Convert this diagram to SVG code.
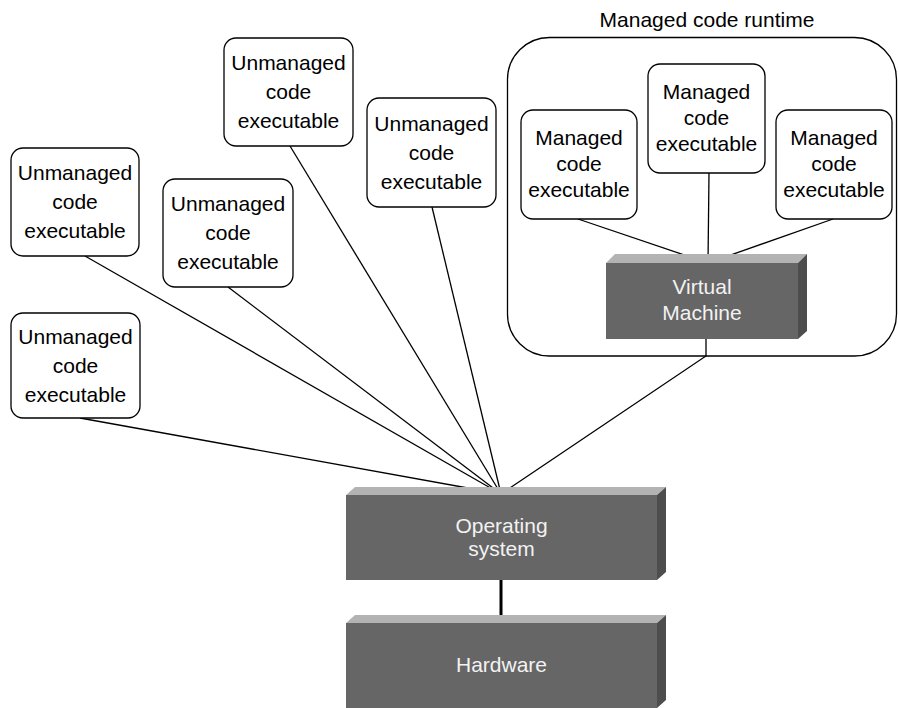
<svg xmlns="http://www.w3.org/2000/svg" width="898" height="708" viewBox="0 0 898 708">
<style>
.box{fill:#fff;stroke:#000;stroke-width:1.3}
.t{font-family:"Liberation Sans",Arial,sans-serif;font-size:21px;fill:#000;text-anchor:middle}
.w{font-family:"Liberation Sans",Arial,sans-serif;font-size:21px;fill:#f2f2f2;text-anchor:middle}
.front{fill:#666666}
.top{fill:#b3b3b3}
.side{fill:#4d4d4d}
.c{stroke:#000;stroke-width:1.3;fill:none}
</style>
<rect width="898" height="708" fill="#fff"/>
<g id="runtime">
<rect x="507.5" y="37.5" width="389" height="318.5" rx="42" ry="42" fill="none" stroke="#000" stroke-width="1.3"/>
<text class="t" x="707" y="27">Managed code runtime</text>
</g>
<g id="connectors">
<line class="c" x1="80" y1="418" x2="501" y2="494"/>
<line class="c" x1="85" y1="256" x2="501" y2="494"/>
<line class="c" x1="228" y1="287" x2="501" y2="494"/>
<line class="c" x1="290" y1="146" x2="501" y2="494"/>
<line class="c" x1="432" y1="207" x2="501" y2="494"/>
<polyline class="c" points="706,339 706,356 501,494"/>
<line class="c" x1="578" y1="219" x2="708" y2="263"/>
<line class="c" x1="709" y1="173" x2="708" y2="263"/>
<line class="c" x1="833" y1="219" x2="708" y2="263"/>
<line stroke="#000" stroke-width="3" x1="501" y1="580" x2="501" y2="623"/>
</g>
<g id="unmanaged1">
<rect class="box" x="11" y="148" width="128" height="108" rx="12"/>
<text class="t" x="75" y="180">Unmanaged</text>
<text class="t" x="75" y="209">code</text>
<text class="t" x="75" y="238">executable</text>
</g>
<g id="unmanaged2">
<rect class="box" x="11" y="313" width="129" height="105" rx="12"/>
<text class="t" x="75.5" y="343.5">Unmanaged</text>
<text class="t" x="75.5" y="372.5">code</text>
<text class="t" x="75.5" y="401.5">executable</text>
</g>
<g id="unmanaged3">
<rect class="box" x="163" y="179" width="130" height="108" rx="12"/>
<text class="t" x="228" y="211">Unmanaged</text>
<text class="t" x="228" y="240">code</text>
<text class="t" x="228" y="269">executable</text>
</g>
<g id="unmanaged4">
<rect class="box" x="224" y="38" width="129" height="108" rx="12"/>
<text class="t" x="288.5" y="70">Unmanaged</text>
<text class="t" x="288.5" y="99">code</text>
<text class="t" x="288.5" y="128">executable</text>
</g>
<g id="unmanaged5">
<rect class="box" x="367" y="98" width="129" height="109" rx="12"/>
<text class="t" x="431.5" y="130.5">Unmanaged</text>
<text class="t" x="431.5" y="159.5">code</text>
<text class="t" x="431.5" y="188.5">executable</text>
</g>
<g id="managed1">
<rect class="box" x="521" y="110" width="116" height="109" rx="12"/>
<text class="t" x="579" y="145">Managed</text>
<text class="t" x="579" y="171">code</text>
<text class="t" x="579" y="197">executable</text>
</g>
<g id="managed2">
<rect class="box" x="648" y="64" width="117" height="109" rx="12"/>
<text class="t" x="706.5" y="99">Managed</text>
<text class="t" x="706.5" y="125">code</text>
<text class="t" x="706.5" y="151">executable</text>
</g>
<g id="managed3">
<rect class="box" x="776" y="110" width="116" height="109" rx="12"/>
<text class="t" x="834" y="145">Managed</text>
<text class="t" x="834" y="171">code</text>
<text class="t" x="834" y="197">executable</text>
</g>
<g id="vm">
<polygon class="top" points="606,263 615,254 807,254 798,263"/>
<polygon class="side" points="798,263 807,254 807,331 798,339"/>
<rect class="front" x="606" y="263" width="192" height="76"/>
<text class="w" x="702" y="294">Virtual</text>
<text class="w" x="702" y="320">Machine</text>
</g>
<g id="os">
<polygon class="top" points="346,495 355,487 666,487 657,495"/>
<polygon class="side" points="657,495 666,487 666,572 657,580"/>
<rect class="front" x="346" y="495" width="311" height="85"/>
<text class="w" x="501.5" y="533">Operating</text>
<text class="w" x="501.5" y="556">system</text>
</g>
<g id="hardware">
<polygon class="top" points="346,623 355,615 666,615 657,623"/>
<polygon class="side" points="657,623 666,615 666,700 657,708"/>
<rect class="front" x="346" y="623" width="311" height="85"/>
<text class="w" x="501.5" y="672">Hardware</text>
</g>
</svg>
